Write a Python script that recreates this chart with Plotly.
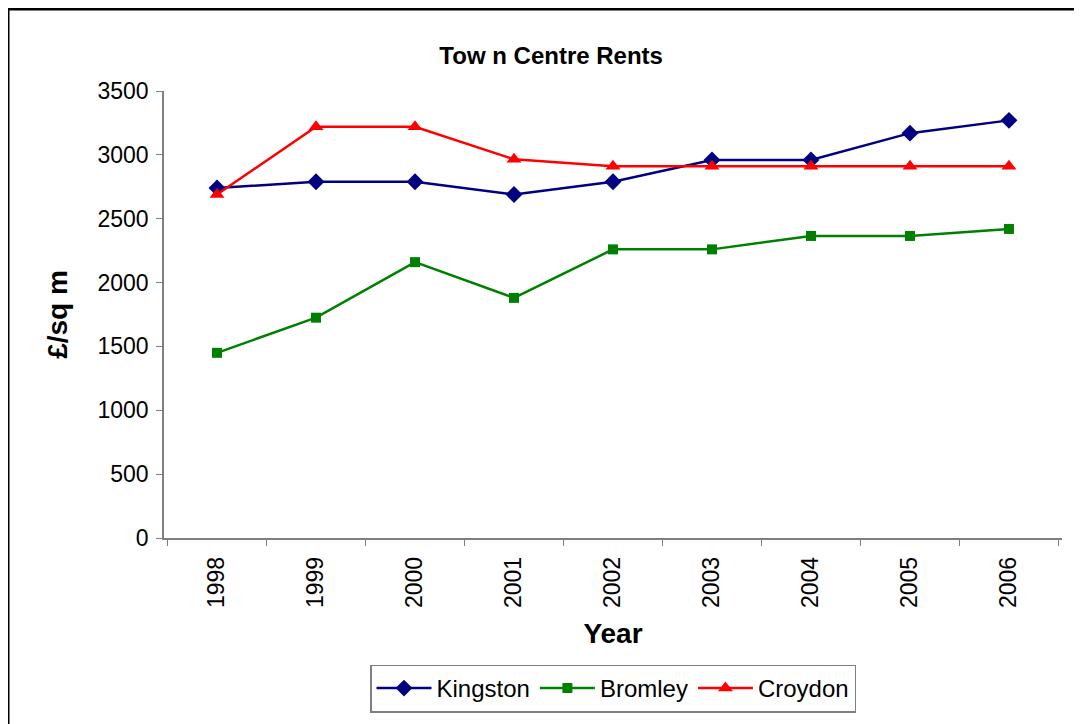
import plotly.graph_objects as go

years = ["1998", "1999", "2000", "2001", "2002", "2003", "2004", "2005", "2006"]
kingston = [2740, 2790, 2790, 2690, 2790, 2960, 2960, 3170, 3270]
bromley = [1450, 1725, 2160, 1880, 2260, 2260, 2365, 2365, 2420]
croydon = [2690, 3220, 3220, 2965, 2910, 2910, 2910, 2910, 2910]

FONT = "Liberation Sans, Arial, sans-serif"

fig = go.Figure()

fig.add_trace(go.Scatter(
    x=years, y=kingston, name="Kingston", mode="lines+markers",
    line=dict(color="#000080", width=2.5),
    marker=dict(symbol="diamond", size=13, color="#000080"),
))
fig.add_trace(go.Scatter(
    x=years, y=bromley, name="Bromley", mode="lines+markers",
    line=dict(color="#008000", width=2.5),
    marker=dict(symbol="square", size=10, color="#008000"),
))
fig.add_trace(go.Scatter(
    x=years, y=croydon, name="Croydon", mode="lines+markers",
    line=dict(color="#FF0000", width=2.5),
    marker=dict(symbol="triangle-up", size=13, color="#FF0000"),
))

# outer chart border (runs off the right and bottom of the picture)
fig.add_shape(
    type="rect", xref="paper", yref="paper",
    x0=-0.1737, x1=1.05, y0=-0.46, y1=1.1834,
    line=dict(color="black", width=3), fillcolor="rgba(0,0,0,0)",
    layer="below",
)

fig.update_layout(
    width=1082, height=724,
    margin=dict(l=156, r=28, t=83, b=194),
    paper_bgcolor="white", plot_bgcolor="white",
    font=dict(family=FONT, size=23, color="black"),
    title=dict(
        text="<b>Tow n Centre Rents</b>", x=0.502, xanchor="center",
        y=0.934, yanchor="middle", font=dict(size=24),
    ),
    xaxis=dict(
        type="category", title=dict(text="<b>Year</b>", standoff=16),
        tickangle=-90, showline=True, linecolor="#808080", linewidth=1.5,
        ticks="outside", ticklen=6, tickcolor="#808080",
        tickson="boundaries", ticklabelstandoff=8,
        showgrid=False, zeroline=False,
    ),
    yaxis=dict(
        title=dict(text="<b>£/sq m</b>", standoff=22),
        range=[0, 3500], dtick=500, showline=True, linecolor="#808080",
        linewidth=1.5, ticks="outside", ticklen=6, tickcolor="#808080",
        ticklabelstandoff=3, showgrid=False, zeroline=False,
    ),
    legend=dict(
        orientation="h", x=0.5, xanchor="center", y=-0.283, yanchor="top",
        bordercolor="#808080", borderwidth=1.5, font=dict(size=24),
        itemwidth=55, tracegroupgap=0,
    ),
    showlegend=True,
)

fig.write_html("out.html")
